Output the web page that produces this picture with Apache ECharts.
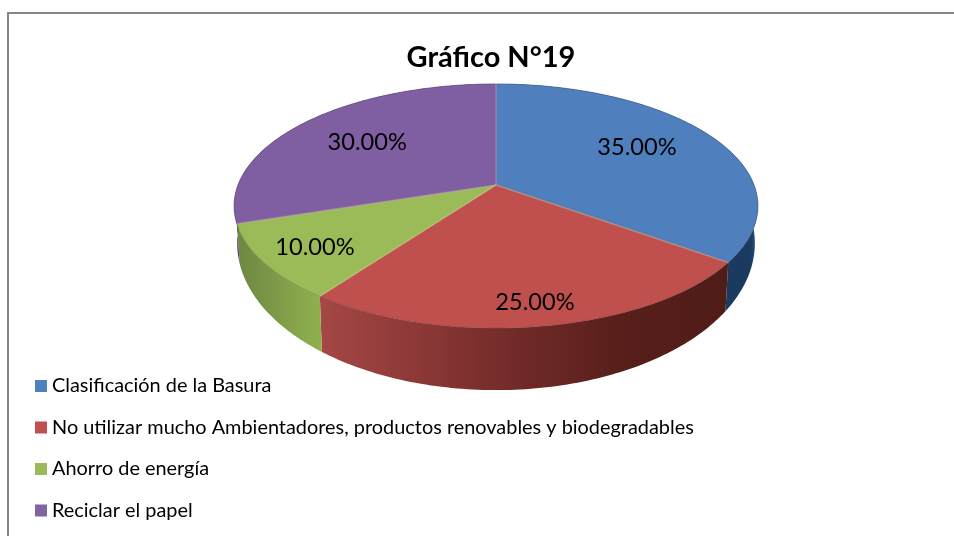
<!DOCTYPE html>
<html>
<head>
<meta charset="utf-8">
<style>html,body{margin:0;padding:0;background:#fff}#c{width:954px;height:536px}</style>
<script src="https://cdn.jsdelivr.net/npm/echarts@6/dist/echarts.min.js"></script>
</head>
<body>
<div id="c"></div>
<script>
const categories = [
  'Clasificación de la Basura',
  'No utilizar mucho Ambientadores, productos renovables y biodegradables',
  'Ahorro de energía',
  'Reciclar el papel'
];
const shares = [35, 25, 10, 30];
const chartTitle = 'Gráfico N°19';

const topColors = ['#4f7fbc', '#c0504d', '#9bbb59', '#7f5fa2'];
const legendColors = ['#4f81bd', '#c0504d', '#9bbb59', '#8064a2'];
const sideStops = [
  [[0, '#1b3a60'], [0.8, '#1b3a60'], [1, '#2c5a8f']],
  [[0, '#a54745'], [0.45, '#752c2a'], [0.75, '#571e1a'], [1, '#4f1d18']],
  [[0, '#6f8842'], [1, '#90b04e']],
  [[0, '#5b4476'], [1, '#5b4476']]
];
const sideSpan = [[720, 758], [320, 727], [240, 320], [234, 240]];
const labelNudge = [[5, -6], [11, 36], [-43, 16], [-7, -2]];

const total = shares.reduce((a, b) => a + b, 0);
const starts = shares.map((_, i) => shares.slice(0, i).reduce((a, b) => a + b, 0) / total * 360);

// Tilted-disc projection (near edge larger than far edge)
const P = 0.172;
function face(u, v) {
  const w = 1 - P * v;
  return [496 + 258 * u / w, (86.6 * v + 185) / w];
}
function base(u, v) {
  const w = 1 - P * v;
  return [496 + 255 * u / w, (105 * v + 218) / w];
}
const polar = (deg, r) => {
  const t = deg * Math.PI / 180;
  return [r * Math.sin(t), -r * Math.cos(t)];
};
function arc(fn, a, b) {
  const pts = [];
  const n = Math.max(2, Math.ceil(Math.abs(b - a)));
  for (let i = 0; i <= n; i++) {
    const d = a + (b - a) * i / n;
    pts.push(fn(...polar(d, 1)));
  }
  return pts;
}

function sliceRenderer(i) {
  return function (params, api) {
    const a0 = starts[i];
    const a1 = a0 + api.value(0) / total * 360;
    const apex = face(0, 0);
    const rim = arc(face, a0, a1);
    const low = arc(base, a1, a0);
    const mid = (a0 + a1) / 2;
    const lp = face(...polar(mid, 0.62));
    return {
      type: 'group',
      children: [
        {
          type: 'polygon', z2: 1, silent: true,
          shape: { points: rim.concat(low) },
          style: {
            fill: new echarts.graphic.LinearGradient(sideSpan[i][0], 0, sideSpan[i][1], 0,
              sideStops[i].map(s => ({ offset: s[0], color: s[1] })), true)
          }
        },
        {
          type: 'polygon', z2: 10, silent: true,
          shape: { points: [apex].concat(rim) },
          style: { fill: topColors[i], stroke: topColors[i], lineWidth: 0.5 }
        },
        {
          type: 'polyline', z2: 12, silent: true,
          shape: { points: [apex, rim[0]] },
          style: { fill: null, stroke: 'rgba(225,215,170,0.3)', lineWidth: 1.5 }
        },
        {
          type: 'polyline', z2: 12, silent: true,
          shape: { points: rim },
          style: { fill: null, stroke: 'rgba(50,50,60,0.25)', lineWidth: 1 }
        },
        {
          type: 'text', z2: 20, silent: true,
          style: {
            x: lp[0] + labelNudge[i][0], y: lp[1] + labelNudge[i][1],
            text: api.value(0).toFixed(2) + '%',
            font: '23.6px Lato', fill: '#000', align: 'center', verticalAlign: 'middle'
          }
        }
      ]
    };
  };
}

const chart = echarts.init(document.getElementById('c'), null, { renderer: 'canvas' });
chart.setOption({
  animation: false,
  backgroundColor: '#fff',
  title: {
    text: chartTitle, left: 486, top: 38, textAlign: 'center',
    textStyle: { fontFamily: 'Lato', fontWeight: 'bold', fontSize: 29, color: '#000' }
  },
  legend: {
    orient: 'vertical', left: 30, top: 371, height: 160, width: 800,
    itemWidth: 12, itemHeight: 12, itemGap: 21.5,
    icon: 'rect', selectedMode: false,
    textStyle: { fontFamily: 'Lato', fontSize: 19.9, color: '#000' },
    data: categories
  },
  graphic: [
    { type: 'rect', silent: true, shape: { x: 8, y: 12, width: 946, height: 2 }, style: { fill: '#868686' } },
    { type: 'rect', silent: true, shape: { x: 7, y: 12, width: 2, height: 524 }, style: { fill: '#868686' } }
  ],
  series: categories.map((name, i) => ({
    type: 'custom',
    name: name,
    coordinateSystem: 'none',
    itemStyle: { color: legendColors[i] },
    renderItem: sliceRenderer(i),
    data: [[shares[i]]]
  }))
});
</script>
</body>
</html>
